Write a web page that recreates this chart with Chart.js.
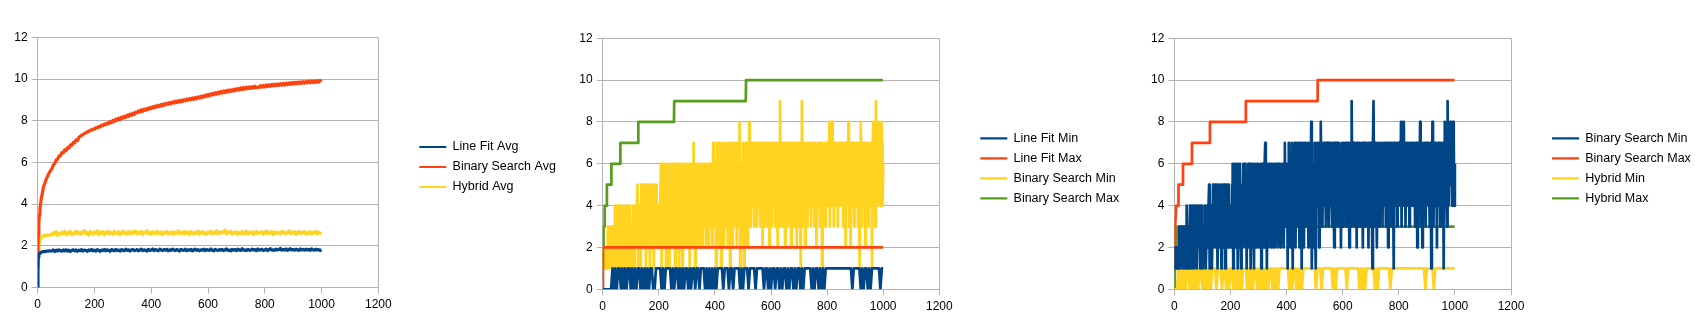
<!DOCTYPE html>
<html>
<head>
<meta charset="utf-8">
<title>Search comparison</title>
<script src="https://cdn.jsdelivr.net/npm/chart.js@4.4.0/dist/chart.umd.min.js"></script>
<style>
  html, body { margin: 0; background: #fff; }
  .row { display: flex; width: 1695px; height: 324px; }
  .panel { position: relative; width: 565px; height: 324px; }
</style>
</head>
<body>
<div class="row">
  <div class="panel"><canvas id="avgChart"></canvas></div>
  <div class="panel"><canvas id="lineFitChart"></canvas></div>
  <div class="panel"><canvas id="hybridChart"></canvas></div>
</div>
<script>
const xTicks = [0, 200, 400, 600, 800, 1000, 1200];
const yTicks = [0, 2, 4, 6, 8, 10, 12];

// averages: dense at the start where the curves climb, then every 5 runs
const avgX = [0, 1, 2, 4, 6, 8, 10, 13, 16, 20, 25, 30, 35, 40, 45];
for (let x = 50; x <= 1000; x += 5) avgX.push(x);

const lineFitAvg = [
  0, 1.25, 1.45, 1.58, 1.63, 1.66, 1.68, 1.70, 1.71, 1.73, 1.72, 1.75, 1.74, 1.76, 1.75,
  1.76, 1.80, 1.73, 1.79, 1.75, 1.81, 1.77, 1.74, 1.80, 1.76, 1.82, 1.75, 1.79, 1.73, 1.78, 1.81, 1.76, 1.80, 1.74, 1.79,
  1.77, 1.82, 1.75, 1.80, 1.78, 1.74, 1.81, 1.77, 1.83, 1.76, 1.79, 1.75, 1.82, 1.78, 1.74, 1.80, 1.77, 1.83, 1.76, 1.81,
  1.78, 1.74, 1.82, 1.79, 1.76, 1.83, 1.77, 1.80, 1.75, 1.82, 1.79, 1.76, 1.84, 1.78, 1.81, 1.75, 1.80, 1.83, 1.77, 1.79,
  1.82, 1.76, 1.80, 1.84, 1.77, 1.81, 1.79, 1.75, 1.83, 1.78, 1.80, 1.85, 1.77, 1.82, 1.79, 1.76, 1.84, 1.80, 1.78, 1.82,
  1.79, 1.83, 1.76, 1.81, 1.78, 1.84, 1.80, 1.77, 1.82, 1.79, 1.75, 1.83, 1.80, 1.78, 1.84, 1.77, 1.81, 1.79, 1.83, 1.76,
  1.80, 1.84, 1.78, 1.82, 1.76, 1.81, 1.79, 1.84, 1.77, 1.82, 1.80, 1.78, 1.85, 1.79, 1.76, 1.83, 1.80, 1.78, 1.82, 1.79,
  1.83, 1.77, 1.81, 1.85, 1.78, 1.80, 1.76, 1.83, 1.79, 1.82, 1.77, 1.84, 1.80, 1.78, 1.86, 1.79, 1.81, 1.77, 1.83, 1.80,
  1.78, 1.84, 1.80, 1.82, 1.77, 1.85, 1.79, 1.81, 1.83, 1.78, 1.80, 1.84, 1.77, 1.82, 1.86, 1.79, 1.81, 1.78, 1.84, 1.80,
  1.82, 1.87, 1.79, 1.83, 1.80, 1.85, 1.78, 1.82, 1.86, 1.80, 1.83, 1.79, 1.84, 1.81, 1.78, 1.85, 1.80, 1.83, 1.79, 1.84,
  1.80, 1.83, 1.78, 1.85, 1.81, 1.79, 1.84, 1.80, 1.82, 1.78, 1.81
];
const binarySearchAvg = [
  1.0, 1.9, 2.5, 3.1, 3.5, 3.8, 4.0, 4.3, 4.5, 4.8, 5.0, 5.2, 5.35, 5.5, 5.6,
  5.70, 5.88, 5.94, 6.12, 6.15, 6.31, 6.32, 6.47, 6.46, 6.61, 6.57, 6.71, 6.69, 6.84, 6.82, 6.97, 6.94, 7.09, 7.05, 7.21,
  7.25, 7.31, 7.34, 7.40, 7.42, 7.48, 7.49, 7.55, 7.55, 7.61, 7.60, 7.67, 7.66, 7.73, 7.71, 7.79, 7.77, 7.85, 7.82, 7.90,
  7.86, 7.96, 7.91, 8.02, 7.97, 8.08, 8.02, 8.13, 8.06, 8.18, 8.12, 8.22, 8.16, 8.27, 8.21, 8.32, 8.26, 8.37, 8.30, 8.42,
  8.38, 8.48, 8.42, 8.53, 8.46, 8.56, 8.50, 8.60, 8.55, 8.64, 8.58, 8.68, 8.62, 8.72, 8.66, 8.75, 8.69, 8.79, 8.72, 8.82,
  8.76, 8.85, 8.79, 8.88, 8.82, 8.91, 8.85, 8.94, 8.88, 8.97, 8.90, 8.99, 8.93, 9.02, 8.96, 9.05, 8.99, 9.07, 9.01, 9.10,
  9.03, 9.12, 9.06, 9.15, 9.09, 9.18, 9.12, 9.21, 9.15, 9.25, 9.18, 9.28, 9.22, 9.32, 9.25, 9.35, 9.28, 9.38, 9.31, 9.41,
  9.33, 9.43, 9.36, 9.46, 9.38, 9.48, 9.41, 9.50, 9.43, 9.53, 9.46, 9.55, 9.48, 9.58, 9.50, 9.60, 9.52, 9.62, 9.54, 9.63,
  9.56, 9.64, 9.57, 9.66, 9.59, 9.62, 9.60, 9.69, 9.61, 9.70, 9.63, 9.72, 9.64, 9.73, 9.66, 9.75, 9.67, 9.76, 9.69, 9.77,
  9.70, 9.78, 9.71, 9.80, 9.72, 9.81, 9.74, 9.82, 9.75, 9.84, 9.76, 9.85, 9.78, 9.86, 9.79, 9.87, 9.80, 9.88, 9.81, 9.89,
  9.82, 9.90, 9.83, 9.91, 9.84, 9.92, 9.85, 9.93, 9.86, 9.94, 9.88
];
const hybridAvg = [
  1.2, 1.4, 1.7, 2.0, 2.2, 2.3, 2.35, 2.4, 2.45, 2.47, 2.5, 2.48, 2.53, 2.5, 2.55,
  2.52, 2.63, 2.57, 2.68, 2.50, 2.61, 2.55, 2.66, 2.59, 2.71, 2.53, 2.64, 2.58, 2.69, 2.54, 2.62, 2.57, 2.72, 2.60, 2.65,
  2.55, 2.67, 2.61, 2.74, 2.58, 2.64, 2.52, 2.69, 2.60, 2.56, 2.67, 2.62, 2.71, 2.54, 2.65, 2.59, 2.68, 2.53, 2.63, 2.70,
  2.57, 2.66, 2.61, 2.55, 2.70, 2.62, 2.58, 2.67, 2.53, 2.64, 2.72, 2.59, 2.65, 2.56, 2.69, 2.61, 2.57, 2.68, 2.63, 2.71,
  2.56, 2.65, 2.60, 2.69, 2.54, 2.66, 2.62, 2.73, 2.58, 2.64, 2.55, 2.68, 2.61, 2.57, 2.70, 2.63, 2.59, 2.67, 2.54, 2.65,
  2.62, 2.70, 2.57, 2.64, 2.59, 2.68, 2.55, 2.66, 2.61, 2.72, 2.58, 2.63, 2.67, 2.56, 2.69, 2.60, 2.65, 2.54, 2.68, 2.62,
  2.58, 2.66, 2.61, 2.71, 2.56, 2.64, 2.69, 2.59, 2.63, 2.55, 2.67, 2.62, 2.70, 2.57, 2.65, 2.60, 2.73, 2.58, 2.66, 2.61,
  2.68, 2.63, 2.75, 2.59, 2.66, 2.62, 2.70, 2.56, 2.64, 2.61, 2.68, 2.55, 2.65, 2.60, 2.69, 2.57, 2.63, 2.71, 2.58, 2.66,
  2.61, 2.67, 2.55, 2.64, 2.70, 2.59, 2.65, 2.62, 2.68, 2.56, 2.63, 2.71, 2.58, 2.66, 2.61, 2.69, 2.54, 2.64, 2.67, 2.60,
  2.65, 2.58, 2.70, 2.62, 2.67, 2.56, 2.63, 2.72, 2.59, 2.66, 2.61, 2.68, 2.55, 2.64, 2.70, 2.58, 2.65, 2.62, 2.69, 2.57,
  2.64, 2.60, 2.68, 2.56, 2.66, 2.62, 2.70, 2.58, 2.65, 2.61, 2.59
];

// 0/1 minimums, every 5 runs
const minX = [];
for (let x = 0; x <= 1000; x += 5) minX.push(x);

const lineFitMin = [
  0, 0, 0, 0, 0, 0, 0, 1, 0, 1,
  0, 1, 1, 0, 1, 0, 1, 0, 1, 1,
  0, 1, 0, 1, 0, 1, 1, 0, 1, 0,
  1, 0, 1, 0, 1, 1, 0, 0, 1, 1,
  1, 1, 0, 1, 0, 1, 1, 1, 1, 0,
  1, 0, 1, 1, 0, 1, 0, 1, 0, 1,
  1, 0, 1, 0, 1, 1, 0, 1, 1, 0,
  1, 1, 1, 0, 1, 0, 1, 0, 1, 0,
  1, 0, 1, 1, 1, 1, 0, 1, 1, 1,
  0, 1, 1, 0, 1, 1, 1, 1, 0, 1,
  0, 1, 1, 1, 0, 1, 1, 1, 1, 0,
  1, 1, 1, 1, 1, 0, 1, 1, 0, 1,
  0, 1, 1, 0, 1, 1, 0, 1, 0, 1,
  1, 0, 1, 0, 1, 1, 0, 1, 0, 1,
  1, 0, 1, 0, 1, 1, 1, 1, 1, 0,
  1, 0, 1, 1, 0, 1, 0, 1, 0, 1,
  1, 1, 1, 1, 1, 1, 1, 1, 1, 1,
  1, 1, 1, 1, 1, 1, 1, 1, 0, 1,
  1, 1, 1, 1, 0, 1, 0, 1, 1, 0,
  1, 0, 1, 1, 1, 1, 1, 1, 0, 1,
  1
];
const hybridMin = [
  0, 0, 0, 1, 0, 1, 0, 1, 0, 1,
  1, 0, 1, 0, 1, 0, 1, 0, 1, 1,
  0, 1, 0, 1, 0, 1, 0, 1, 1, 1,
  0, 1, 1, 1, 0, 1, 1, 0, 1, 0,
  1, 1, 0, 1, 0, 1, 0, 1, 0, 1,
  1, 1, 0, 1, 0, 1, 0, 1, 1, 0,
  1, 0, 1, 0, 1, 0, 1, 0, 1, 1,
  0, 1, 0, 1, 0, 1, 1, 1, 1, 1,
  1, 1, 0, 1, 0, 1, 1, 0, 1, 0,
  1, 0, 1, 1, 1, 1, 1, 1, 1, 1,
  1, 0, 1, 1, 1, 0, 1, 1, 1, 1,
  1, 1, 1, 0, 1, 0, 1, 1, 1, 1,
  1, 1, 1, 0, 1, 1, 1, 1, 1, 1,
  1, 1, 0, 1, 0, 1, 0, 1, 1, 1,
  1, 1, 1, 0, 1, 0, 1, 1, 1, 1,
  1, 1, 1, 1, 0, 1, 1, 1, 1, 1,
  1, 1, 1, 1, 1, 1, 1, 1, 1, 1,
  1, 1, 1, 1, 1, 1, 1, 1, 1, 0,
  1, 1, 1, 1, 1, 0, 1, 1, 1, 1,
  1, 1, 1, 1, 1, 1, 1, 1, 1, 1,
  1
];

// binary search minimum, every 2 runs (one row = 50 runs)
const searchX = [];
for (let x = 0; x <= 1000; x += 2) searchX.push(x);

const binarySearchMin = [
  1, 2, 1, 1, 2, 1, 2, 2, 1, 3, 2, 1, 3, 2, 2, 3, 1, 2, 3, 2, 3, 1, 4, 2, 3,
  1, 3, 2, 4, 3, 1, 2, 4, 3, 2, 1, 3, 4, 2, 2, 1, 3, 4, 2, 3, 4, 1, 2, 4, 3,
  2, 1, 3, 2, 4, 3, 1, 2, 4, 3, 2, 4, 5, 1, 3, 2, 4, 1, 3, 5, 2, 4, 3, 5, 2,
  4, 5, 1, 3, 5, 2, 4, 3, 5, 1, 4, 5, 3, 2, 5, 4, 1, 3, 5, 2, 4, 5, 3, 2, 4,
  2, 4, 3, 5, 6, 1, 3, 4, 6, 2, 5, 3, 6, 1, 4, 5, 2, 6, 3, 1, 4, 5, 2, 6, 3,
  5, 6, 2, 4, 1, 5, 3, 6, 2, 4, 6, 1, 3, 5, 6, 2, 4, 1, 6, 3, 5, 2, 6, 4, 3,
  6, 2, 5, 3, 6, 1, 4, 6, 3, 5, 2, 6, 7, 3, 5, 1, 6, 4, 2, 6, 3, 5, 6, 2, 4,
  6, 3, 5, 2, 6, 4, 3, 6, 5, 2, 6, 3, 4, 6, 2, 5, 6, 3, 4, 6, 2, 5, 7, 3, 6,
  4, 6, 1, 5, 7, 3, 6, 2, 5, 7, 4, 1, 6, 3, 7, 5, 2, 6, 4, 7, 3, 6, 5, 2, 7,
  3, 6, 1, 7, 4, 5, 2, 6, 7, 3, 5, 6, 4, 7, 2, 6, 3, 7, 5, 8, 1, 4, 6, 2, 5,
  7, 3, 1, 6, 7, 4, 5, 7, 2, 6, 3, 8, 5, 7, 3, 6, 4, 7, 5, 6, 3, 7, 4, 6, 7,
  3, 6, 7, 4, 7, 5, 3, 6, 7, 4, 2, 6, 7, 5, 3, 7, 6, 4, 7, 3, 5, 6, 2, 7, 4,
  6, 3, 7, 5, 4, 6, 7, 3, 6, 5, 7, 4, 2, 6, 7, 3, 9, 5, 4, 7, 6, 3, 7, 5, 6,
  2, 7, 5, 3, 6, 7, 4, 6, 3, 7, 5, 2, 7, 6, 4, 7, 3, 5, 7, 4, 6, 2, 7, 5, 3,
  6, 7, 4, 1, 7, 9, 5, 3, 7, 6, 4, 2, 7, 5, 6, 3, 7, 4, 6, 5, 7, 3, 6, 4, 7,
  5, 6, 3, 7, 4, 6, 2, 5, 7, 6, 4, 7, 3, 6, 7, 5, 1, 7, 4, 6, 5, 7, 3, 6, 7,
  4, 7, 6, 5, 8, 3, 7, 6, 4, 8, 5, 7, 3, 6, 7, 4, 7, 5, 6, 3, 7, 6, 4, 7, 5,
  7, 4, 6, 7, 3, 5, 7, 6, 2, 7, 4, 6, 5, 8, 3, 7, 6, 2, 7, 5, 4, 7, 6, 3, 7,
  5, 6, 7, 4, 6, 3, 7, 5, 1, 4, 8, 6, 3, 7, 5, 4, 7, 6, 2, 7, 5, 4, 7, 6, 3,
  7, 4, 6, 5, 7, 1, 6, 8, 4, 7, 5, 3, 9, 6, 4, 7, 5, 8, 6, 7, 4, 6, 8, 7, 4,
  6
];

// max series only change at a few runs, so keep just the corners
const lineFitMaxX = [0, 1, 999];
const lineFitMax = [0, 2, 2];
const binarySearchMaxX = [0, 1, 2, 3, 6, 7, 14, 15, 30, 31, 62, 63, 126, 127, 254, 255, 510, 511, 999];
const binarySearchMax = [1, 2, 2, 3, 3, 4, 4, 5, 5, 6, 6, 7, 7, 8, 8, 9, 9, 10, 10];
const hybridMaxX = [0, 2, 6, 9, 999];
const hybridMax = [0, 1, 1, 3, 3];

const BLUE = '#004586', RED = '#ff420e', YELLOW = '#ffd320', GREEN = '#579d1c';
const GRID = '#b3b3b3';
const FONT = 'Liberation Sans, Arial, sans-serif';
const LEGEND_W = 100;   // reserved legend width, labels may run past it

function series(label, color, xs, ys, width = 2.7) {
  return {
    label,
    data: xs.map((x, i) => ({ x, y: ys[i] })),
    borderColor: color,
    backgroundColor: color,
    borderWidth: width,
    borderJoinStyle: 'round',
    pointRadius: 0,
    tension: 0
  };
}

// put the legend a little away from the plot frame and let it use the rest of the canvas
const legendPlace = {
  id: 'legendPlace',
  afterLayout(chart, args, opts) {
    const legend = chart.legend;
    const area = chart.chartArea;
    legend.left = area.right + opts.gap;
    legend.right = chart.width;
    legend.width = legend.right - legend.left;
    legend.top = area.top;
    legend.bottom = area.bottom + opts.drop;
    legend.height = legend.bottom - legend.top;
  }
};

function makeChart(id, datasets, box) {
  return new Chart(document.getElementById(id), {
    type: 'line',
    data: { datasets },
    options: {
      responsive: true,
      maintainAspectRatio: false,
      animation: false,
      events: [],
      layout: {
        padding: { left: 0, top: box.top, right: 565 - LEGEND_W - box.right, bottom: 0 }
      },
      scales: {
        x: {
          type: 'linear',
          min: 0,
          max: 1200,
          afterBuildTicks: s => { s.ticks = xTicks.map(v => ({ value: v })); },
          afterFit: s => { s.height = 324 - box.bottom; },
          grid: {
            color: c => (c.tick && c.tick.value === 1200 ? GRID : 'rgba(0,0,0,0)'),
            tickColor: GRID,
            tickLength: 6
          },
          border: { color: GRID },
          ticks: {
            padding: 4,
            color: '#000',
            font: { family: FONT, size: 12 },
            maxRotation: 0,
            autoSkip: false,
            callback: v => String(v)
          }
        },
        y: {
          min: 0,
          max: 12,
          afterBuildTicks: s => { s.ticks = yTicks.map(v => ({ value: v })); },
          afterFit: s => { s.width = box.left; },
          grid: { color: GRID, tickColor: GRID, tickLength: 6 },
          border: { color: GRID },
          ticks: {
            padding: 4,
            color: '#000',
            font: { family: FONT, size: 12 },
            callback: v => String(v)
          }
        }
      },
      plugins: {
        legend: {
          position: 'right',
          align: 'center',
          maxWidth: LEGEND_W,
          labels: {
            color: '#000',
            font: { family: FONT, size: 12.5 },
            usePointStyle: true,
            pointStyle: 'line',
            pointStyleWidth: 27,
            padding: 7.5,
            generateLabels: chart =>
              Chart.defaults.plugins.legend.labels.generateLabels(chart)
                .map(item => Object.assign(item, { lineWidth: 2.2 }))
          }
        },
        tooltip: { enabled: false },
        legendPlace: { gap: 33.5, drop: 9 }
      }
    },
    plugins: [legendPlace]
  });
}

makeChart('avgChart', [
  series('Line Fit Avg', BLUE, avgX, lineFitAvg, 3.2),
  series('Binary Search Avg', RED, avgX, binarySearchAvg, 3.2),
  series('Hybrid Avg', YELLOW, avgX, hybridAvg, 3.2)
], { left: 37.7, top: 37.5, right: 378.3, bottom: 287.5 });

makeChart('lineFitChart', [
  series('Line Fit Min', BLUE, minX, lineFitMin),
  series('Line Fit Max', RED, lineFitMaxX, lineFitMax),
  series('Binary Search Min', YELLOW, searchX, binarySearchMin),
  series('Binary Search Max', GREEN, binarySearchMaxX, binarySearchMax)
], { left: 37.7, top: 38.3, right: 374.3, bottom: 289.3 });

makeChart('hybridChart', [
  series('Binary Search Min', BLUE, searchX, binarySearchMin),
  series('Binary Search Max', RED, binarySearchMaxX, binarySearchMax),
  series('Hybrid Min', YELLOW, minX, hybridMin),
  series('Hybrid Max', GREEN, hybridMaxX, hybridMax)
], { left: 44.3, top: 38.3, right: 381, bottom: 289.3 });
</script>
</body>
</html>
